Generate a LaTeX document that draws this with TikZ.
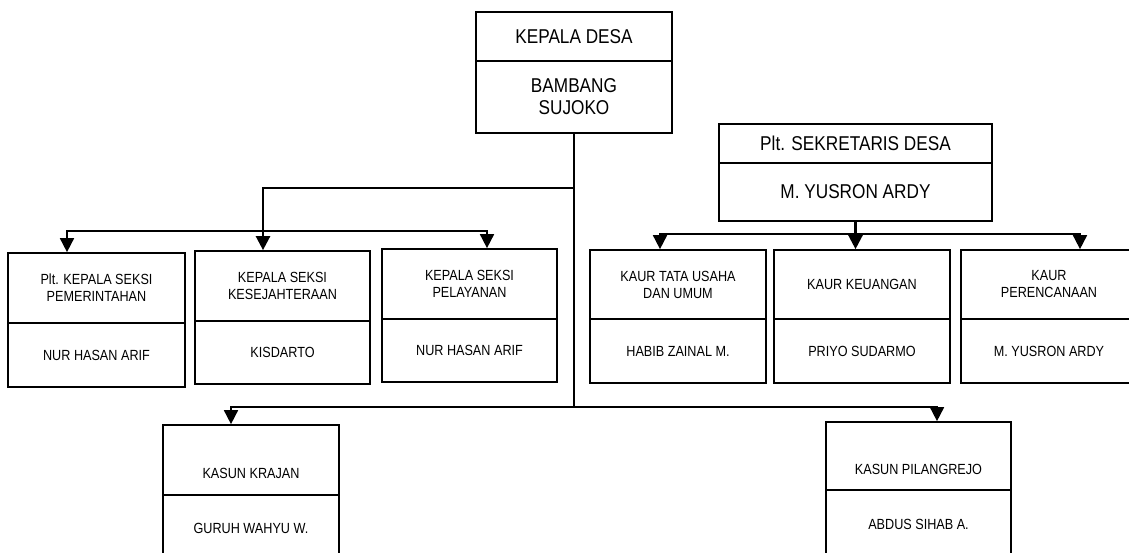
\documentclass[tikz,border=0pt]{standalone}
\usepackage{fontspec}
\setmainfont{Liberation Sans}[FakeStretch=0.86]
\usetikzlibrary{arrows.meta}
\newcommand\fsmallx{\fontsize{14.7}{17}\selectfont}
\newcommand\fbigx{\fontsize{20}{22}\selectfont}
\begin{document}
\begin{tikzpicture}[x=1pt,y=-1pt,
  cell/.style={draw, line width=1.7pt, inner sep=0pt, align=center, font=\fsmallx},
  sz/.style 2 args={minimum width=#1pt, minimum height=#2pt},
  big/.style={font=\fbigx},
  lbl/.style={inner sep=0pt, align=center, font=\fsmallx},
  conn/.style={line width=1.7pt},
  >={Triangle[length=14pt,width=14pt]}]
\clip (0,0) rectangle (1129,552);
% top
\node[cell, big, sz={196}{49}] (T1) at (574,36.5) {KEPALA DESA};
\node[cell, big, sz={196}{72}] (T2) at (574,97) {BAMBANG\\SUJOKO};
% left sections
\node[cell, sz={177}{70}] (PM1) at (96.5,288) {Plt. KEPALA SEKSI\\PEMERINTAHAN};
\node[cell, sz={177}{64}] (PM2) at (96.5,355) {NUR HASAN ARIF};
\node[cell, sz={175}{70}] (KS1) at (282.5,286) {KEPALA SEKSI\\KESEJAHTERAAN};
\node[cell, sz={175}{63}] (KS2) at (282.5,352.5) {KISDARTO};
\node[cell, sz={175}{70}] (PL1) at (469.5,284) {KEPALA SEKSI\\PELAYANAN};
\node[cell, sz={175}{63}] (PL2) at (469.5,350.5) {NUR HASAN ARIF};
% secretary
\node[cell, big, sz={273}{39}] (S1) at (855.5,143.5) {Plt. SEKRETARIS DESA};
\node[cell, big, sz={273}{58}] (S2) at (855.5,192) {M. YUSRON ARDY};
% kaur
\node[cell, sz={176}{69}] (K1) at (678,284.5) {KAUR TATA USAHA\\DAN UMUM};
\node[cell, sz={176}{64}] (K1b) at (678,351) {HABIB ZAINAL M.};
\node[cell, sz={176}{69}] (K2) at (862,284.5) {KAUR KEUANGAN};
\node[cell, sz={176}{64}] (K2b) at (862,351) {PRIYO SUDARMO};
\node[cell, sz={176}{69}] (K3) at (1049,284.5) {KAUR\\PERENCANAAN};
\node[cell, sz={176}{64}] (K3b) at (1049,351) {M. YUSRON ARDY};
% kasun
\node[cell, sz={176}{70}] (KK1) at (251,460) {};
\node[cell, sz={176}{75}] (KK2) at (251,532.5) {};
\node[lbl] (KK1t) at (251,473) {KASUN KRAJAN};
\node[lbl] (KK2t) at (251,528.5) {GURUH WAHYU W.};
\node[cell, sz={185}{68}] (KP1) at (918.5,456) {};
\node[cell, sz={185}{80}] (KP2) at (918.5,530) {};
\node[lbl] (KP1t) at (918.5,469) {KASUN PILANGREJO};
\node[lbl] (KP2t) at (918.5,524) {ABDUS SIHAB A.};
% connectors
\coordinate (jL) at (T2.south |- 0,188);
\coordinate (jB) at (T2.south |- 0,407);
\coordinate (aKS) at ([xshift=-19.5pt]KS1.north);
\coordinate (jM) at (aKS |- 0,231);
\coordinate (jR) at (S2.south |- 0,234);
\draw[conn] (T2.south) -- (jB);
\draw[conn, line width=2.4pt, ->] (jL) -| (aKS);
\draw[conn, <->] ([xshift=-29.5pt]PM1.north) |- (jM) -| ([xshift=17.5pt]PL1.north);
\draw[conn, <->] ([xshift=-20pt]KK1.north) |- (jB) -| ([xshift=18.5pt]KP1.north);
\draw[conn, line width=2.4pt, ->] (S2.south) -- (S2.south |- K2.north);
\draw[conn, <->] ([xshift=-18pt]K1.north) |- (jR) -| ([xshift=31pt]K3.north);
\end{tikzpicture}
\end{document}
